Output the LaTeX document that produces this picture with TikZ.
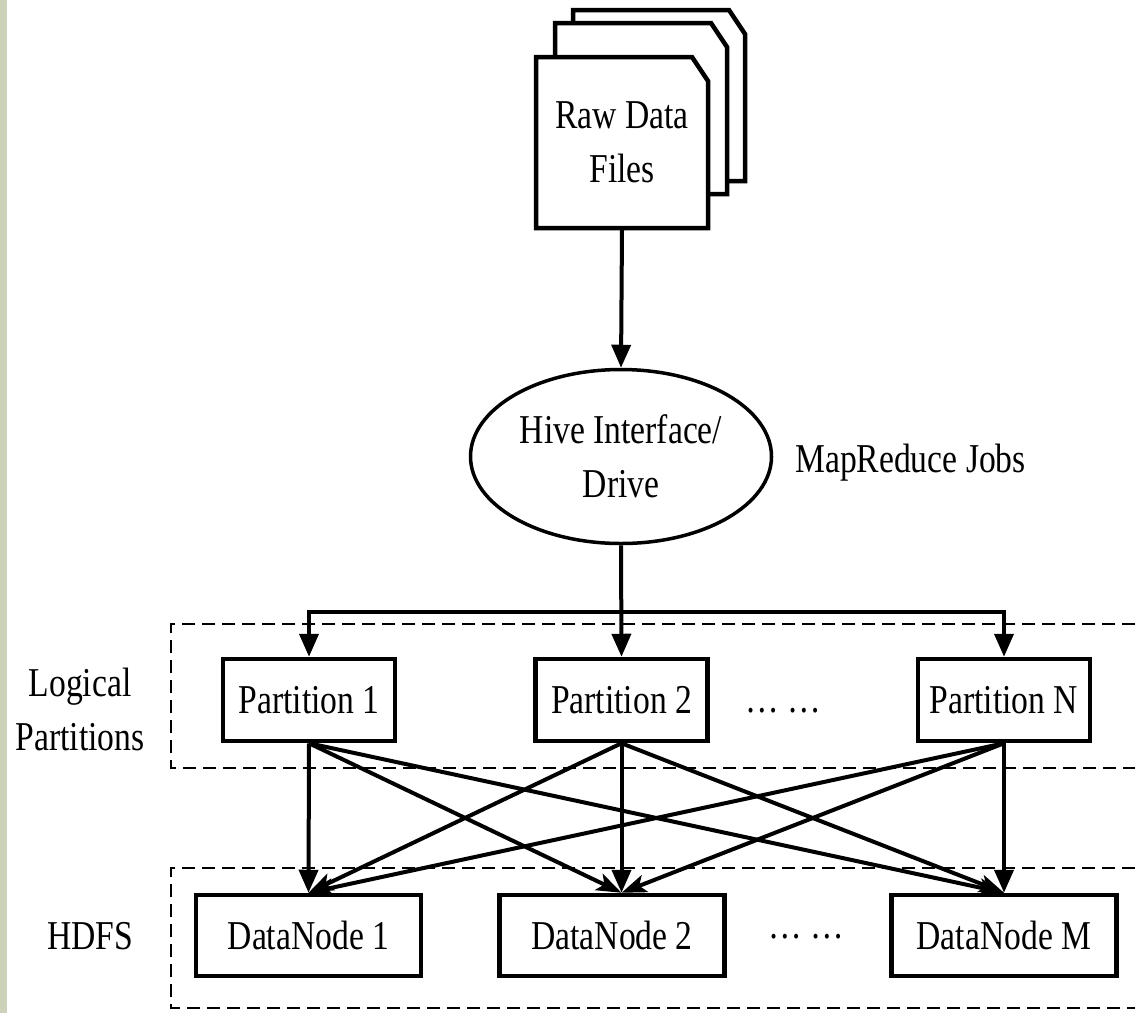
\documentclass[tikz,border=0pt]{standalone}
\usepackage{fontspec}
\setmainfont{Liberation Serif}[FakeStretch=0.82]
\usetikzlibrary{arrows.meta,shapes.geometric}
\definecolor{sidebar}{RGB}{204,209,186}

\begin{document}
\begin{tikzpicture}[x=1pt,y=-1pt,
  every node/.style={font=\fontsize{41}{54}\selectfont, inner sep=0pt},
  sheet/.style={draw, line width=4.5pt, fill=white, line join=miter},
  partbox/.style={draw, line width=4.5pt, fill=white, minimum width=172pt, minimum height=82pt},
  databox/.style={draw, line width=4.5pt, fill=white, minimum width=225pt, minimum height=81pt},
  driver/.style={draw, ellipse, line width=3.5pt, minimum width=301pt, minimum height=174pt, align=center},
  label/.style={align=center},
  group/.style={line width=2.2pt, dash pattern=on 13pt off 7pt},
  flow/.style={line width=4pt, -{Triangle[length=23pt,width=19pt]}},
  cross/.style={line width=4pt, -{Stealth[length=25pt,width=18pt,inset=6pt]}},
  bus/.style={line width=4pt, {Triangle[length=23pt,width=19pt]}-{Triangle[length=23pt,width=19pt]}}
]
\useasboundingbox (0,0) rectangle (1135,1013);
\fill[white] (0,0) rectangle (1135,1013);
\fill[sidebar] (0,0) rectangle (7,1013);

% stacked raw data sheets, back to front
\draw[sheet] (573,10) -- (729,10) -- (745,34) -- (745,181) -- (573,181) -- cycle;
\draw[sheet] (555,23) -- (711,23) -- (727,47) -- (727,194) -- (555,194) -- cycle;
\draw[sheet] (536,57) -- (692,57) -- (708,81) -- (708,228) -- (536,228) -- cycle;
\node[label, minimum width=172pt, minimum height=171pt, outer sep=2pt] (raw) at (622,142.5) {Raw Data\\Files};

% Hive driver
\node[driver] (hive) at (621,456.5) {Hive Interface/\\Drive};
\node[anchor=base west] (mr) at (795,472) {MapReduce Jobs};

% group frames
\draw[group] (1135,624) -- (171,624) -- (171,768) -- (1135,768);
\draw[group] (1135,868) -- (171,868) -- (171,1008) -- (1135,1008);
\node[label] (lp) at (80,709) {Logical\\Partitions};
\node (hdfs) at (90,936.5) {HDFS};

% partitions and data nodes
\node[partbox] (p1) at (309,700) {Partition 1};
\node[partbox] (p2) at (621.5,700) {Partition 2};
\node[partbox] (pN) at (1004,700) {Partition N};
\node[anchor=base] (pdots) at (783,712) {\dots\ \dots};

\node[databox] (d1) at (308.5,935.5) {DataNode 1};
\node[databox] (d2) at (612,935.5) {DataNode 2};
\node[databox] (dM) at (1004,935.5) {DataNode M};
\node[anchor=base] (ddots) at (806,938) {\dots\ \dots};

% connectors
\coordinate (busy) at (0,612);
\draw[flow] (raw.south) -- (hive.north);
\draw[flow] (hive.south) -- (p2.north);
\draw[bus, line join=miter] (p1.north) -- (p1.north |- busy) -- (pN.north |- busy) -- (pN.north);

\coordinate (t1) at (d1.north);
\coordinate (t2) at (p2.south |- d2.north);
\coordinate (tM) at (dM.north);
\draw[flow] (p1.south) -- (t1);
\draw[flow] (p2.south) -- (t2);
\draw[flow] (pN.south) -- (tM);
\draw[cross] (p1.south) -- (t2);
\draw[cross] (p1.south) -- (tM);
\draw[cross] (p2.south) -- (t1);
\draw[cross] (p2.south) -- (tM);
\draw[cross] (pN.south) -- (t1);
\draw[cross] (pN.south) -- (t2);
\end{tikzpicture}
\end{document}
